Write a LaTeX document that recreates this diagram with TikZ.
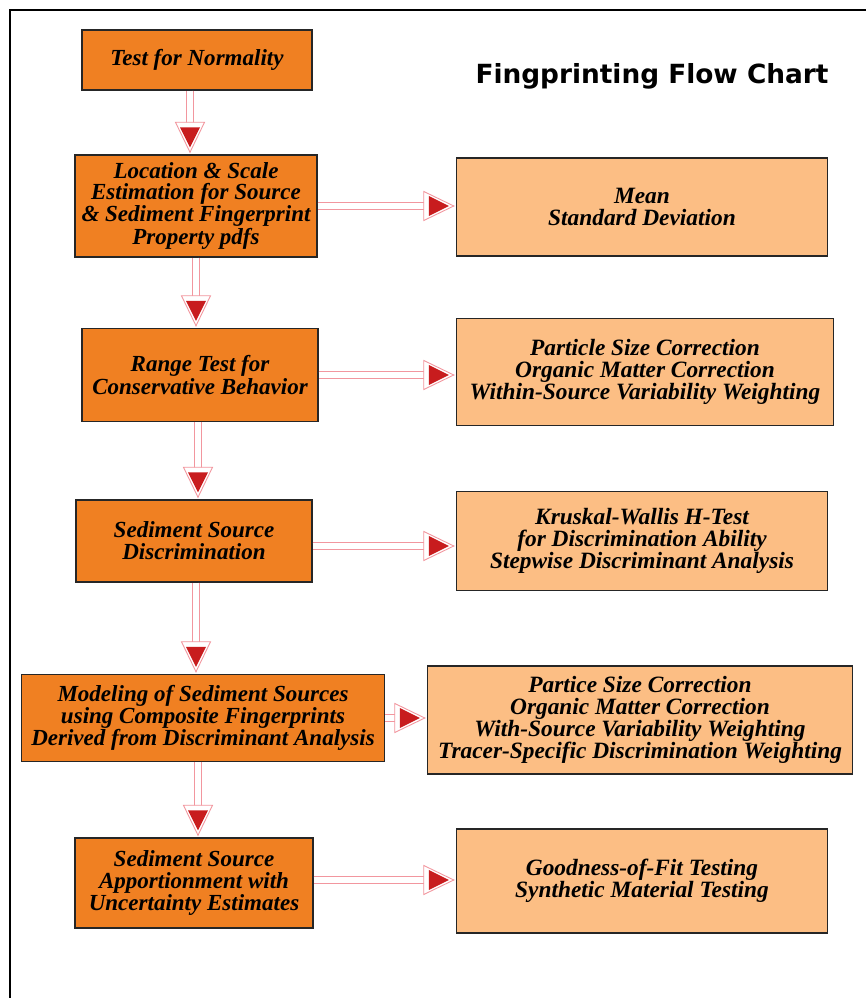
\documentclass[tikz,border=0pt]{standalone}
\usepackage{fontspec}
\setmainfont{Liberation Serif}
\newfontfamily\titlefont{DejaVu Sans}
\usetikzlibrary{decorations.markings}
\definecolor{steporange}{RGB}{240,128,34}
\definecolor{notelight}{RGB}{252,190,132}
\definecolor{linkpink}{RGB}{242,150,158}
\definecolor{tipred}{RGB}{200,28,30}
\tikzset{
  stepbox/.style={draw=black!85, line width=0.8pt, fill=steporange, align=center,
    font=\fontsize{13.1}{12.6}\selectfont\bfseries\itshape, inner sep=0pt},
  notebox/.style={draw=black!85, line width=0.8pt, fill=notelight, align=center,
    font=\fontsize{13.3}{12.6}\selectfont\bfseries\itshape, inner sep=0pt},
  flow/.style={
    preaction={draw=linkpink, line width=0.5pt, double=white, double distance=0.11cm, shorten >=0.62cm},
    postaction={decorate, decoration={markings, mark=at position -0.04cm with {
      \filldraw[draw=linkpink, fill=white, line width=0.5pt] (0,0) -- (-0.6,0.29) -- (-0.6,-0.29) -- cycle;
      \fill[tipred] (-0.1,0) -- (-0.5,0.2) -- (-0.5,-0.2) -- cycle;}}}
  }
}
\begin{document}
\begin{tikzpicture}
    \useasboundingbox (0,0) rectangle (17.32,19.96);
    \fill[white] (0,0) rectangle (17.32,19.96);
    %frame
    \begin{scope}
        \clip (0,0) rectangle (17.32,19.96);
        \draw[line width=1.2pt] (0.2,-0.5) -- (0.2,19.76) -- (17.8,19.76);
    \end{scope}

    %title
    \node[font=\titlefont\fontsize{15}{18}\selectfont\bfseries] (title) at (13.04,18.43) {Fingprinting Flow Chart};

    %steps
    \node[stepbox, minimum width=4.6cm, minimum height=1.2cm] (normality) at (3.94,18.76) {Test for Normality};
    \node[stepbox, minimum width=4.84cm, minimum height=2.04cm, font=\fontsize{13.1}{11.8}\selectfont\bfseries\itshape] (estimation) at (3.92,15.84)
        {Location \& Scale\\Estimation for Source\\\& Sediment Fingerprint\\Property pdfs};
    \node[stepbox, minimum width=4.72cm, minimum height=1.86cm] (range) at (4.00,12.46) {Range Test for\\Conservative Behavior};
    \node[stepbox, minimum width=4.72cm, minimum height=1.64cm] (discrim) at (3.88,9.14) {Sediment Source\\Discrimination};
    \node[stepbox, minimum width=7.26cm, minimum height=1.74cm] (modeling) at (4.06,5.60)
        {Modeling of Sediment Sources\\using Composite Fingerprints\\Derived from Discriminant Analysis};
    \node[stepbox, minimum width=4.76cm, minimum height=1.80cm] (apportion) at (3.88,2.30)
        {Sediment Source\\Apportionment with\\Uncertainty Estimates};

    %notes
    \node[notebox, minimum width=7.42cm, minimum height=1.96cm] (meansd) at (12.84,15.82) {Mean\\Standard Deviation};
    \node[notebox, minimum width=7.54cm, minimum height=2.14cm] (corrections) at (12.90,12.52)
        {Particle Size Correction\\Organic Matter Correction\\Within-Source Variability Weighting};
    \node[notebox, minimum width=7.42cm, minimum height=1.98cm] (kruskal) at (12.84,9.14)
        {Kruskal-Wallis H-Test\\for Discrimination Ability\\Stepwise Discriminant Analysis};
    \node[notebox, minimum width=8.50cm, minimum height=2.16cm] (weighting) at (12.80,5.56)
        {Partice Size Correction\\Organic Matter Correction\\With-Source Variability Weighting\\Tracer-Specific Discrimination Weighting};
    \node[notebox, minimum width=7.42cm, minimum height=2.08cm] (testing) at (12.84,2.34)
        {Goodness-of-Fit Testing\\Synthetic Material Testing};

    %down arrows
    \path[flow] ([xshift=-0.14cm]normality.south) -- ([xshift=-0.14cm]normality.south |- estimation.north);
    \path[flow] (estimation.south) -- (estimation.south |- range.north);
    \path[flow] ([xshift=-0.04cm]range.south) -- ([xshift=-0.04cm]range.south |- discrim.north);
    \path[flow] ([xshift=0.04cm]discrim.south) -- ([xshift=0.04cm]discrim.south |- modeling.north);
    \path[flow] ([xshift=-0.1cm]modeling.south) -- ([xshift=-0.1cm]modeling.south |- apportion.north);

    %side arrows
    \path[flow] (estimation.east) -- (estimation.east -| meansd.west);
    \path[flow] (range.east) -- (range.east -| corrections.west);
    \path[flow] ([yshift=-0.1cm]discrim.east) -- ([yshift=-0.1cm]discrim.east -| kruskal.west);
    \path[flow] (modeling.east) -- (modeling.east -| weighting.west);
    \path[flow] ([yshift=0.06cm]apportion.east) -- ([yshift=0.06cm]apportion.east -| testing.west);
\end{tikzpicture}
\end{document}
